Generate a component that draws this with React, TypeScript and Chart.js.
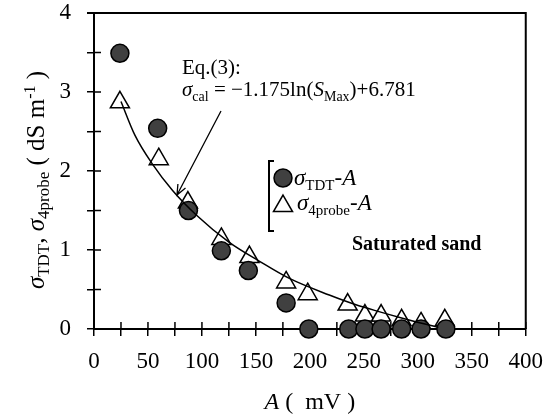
import React, { useEffect, useRef } from "react";
import { Chart, registerables } from "chart.js";

Chart.register(...registerables);

// ---- data ----
const aTDT = [24, 59, 87.5, 118, 143, 178, 199, 236, 251, 266, 285, 303, 326];
const sigmaTDT = [3.49, 2.54, 1.5, 0.99, 0.74, 0.33, 0, 0, 0, 0, 0, 0, 0];
const a4probe = [24, 60, 87, 118, 144, 178, 198, 235, 251, 266, 285, 303, 325];
const sigma4probe = [2.87, 2.15, 1.6, 1.14, 0.91, 0.59, 0.44, 0.31, 0.17, 0.17, 0.11, 0.07, 0.11];
const aCurve = [25, 38, 54, 73, 95, 125, 153, 181, 218, 242, 264, 285, 319];
const sigmaCurve = [2.88, 2.45, 2.09, 1.75, 1.44, 1.1, 0.86, 0.64, 0.43, 0.31, 0.22, 0.14, 0.02];

const xMin = 0;
const xMax = 400;
const xStep = 25;
const xLabelEvery = 50;
const yMin = 0;
const yMax = 4;
const yStep = 0.5;

const eqLabel = "Eq.(3):";
const sandLabel = "Saturated sand";

const SERIF = '"Liberation Serif", "Times New Roman", serif';
const f = (size: number, style = "") => `${style} ${size}px ${SERIF}`.trim();

type Part = { t: string; f: string; dy?: number };

function drawRich(ctx: CanvasRenderingContext2D, parts: Part[], x: number, y: number, align: "left" | "center" = "left") {
  let total = 0;
  for (const p of parts) {
    ctx.font = p.f;
    total += ctx.measureText(p.t).width;
  }
  let cx = align === "center" ? x - total / 2 : x;
  ctx.textAlign = "left";
  ctx.textBaseline = "alphabetic";
  for (const p of parts) {
    ctx.font = p.f;
    ctx.fillText(p.t, cx, y + (p.dy || 0));
    cx += ctx.measureText(p.t).width;
  }
}

function drawTriangle(ctx: CanvasRenderingContext2D, x: number, y: number, r: number) {
  let rad = 0;
  ctx.beginPath();
  for (let i = 0; i < 3; i++) {
    const px = x + Math.sin(rad) * r;
    const py = y - Math.cos(rad) * r;
    if (i === 0) ctx.moveTo(px, py);
    else ctx.lineTo(px, py);
    rad += (2 * Math.PI) / 3;
  }
  ctx.closePath();
  ctx.fillStyle = "#fff";
  ctx.fill();
  ctx.strokeStyle = "#000";
  ctx.lineWidth = 1.5;
  ctx.stroke();
}

const framePlugin = {
  id: "frame",
  beforeDatasetsDraw(chart: any) {
    const { ctx, chartArea, scales } = chart;
    const { left, right, top, bottom } = chartArea;
    ctx.save();
    ctx.strokeStyle = "#000";
    ctx.lineWidth = 1.5;
    // inward ticks
    ctx.beginPath();
    for (const t of scales.x.ticks) {
      const px = scales.x.getPixelForValue(t.value);
      ctx.moveTo(px, bottom);
      ctx.lineTo(px, bottom - 7);
    }
    for (const t of scales.y.ticks) {
      const py = scales.y.getPixelForValue(t.value);
      ctx.moveTo(left, py);
      ctx.lineTo(left + 7, py);
    }
    ctx.stroke();
    // top & right frame
    ctx.lineWidth = 2;
    ctx.beginPath();
    ctx.moveTo(left - 7, top);
    ctx.lineTo(right, top);
    ctx.lineTo(right, bottom);
    ctx.stroke();
    ctx.restore();
  },
  afterDraw(chart: any) {
    const { ctx, chartArea } = chart;
    const { left, right } = chartArea;
    ctx.save();
    ctx.fillStyle = "#000";

    // Y axis title (rotated)
    ctx.save();
    ctx.translate(44, 180);
    ctx.rotate(-Math.PI / 2);
    drawRich(
      ctx,
      [
        { t: "σ", f: f(25, "italic") },
        { t: "TDT", f: f(17), dy: 5 },
        { t: ", ", f: f(25) },
        { t: "σ", f: f(25, "italic") },
        { t: "4probe", f: f(17), dy: 5 },
        { t: " ( dS m", f: f(25) },
        { t: "-1", f: f(16), dy: -9 },
        { t: " )", f: f(25) },
      ],
      0,
      0,
      "center"
    );
    ctx.restore();

    // X axis title
    drawRich(
      ctx,
      [
        { t: "A", f: f(24, "italic") },
        { t: " (  mV )", f: f(24) },
      ],
      (left + right) / 2,
      409,
      "center"
    );

    // Equation annotation
    drawRich(ctx, [{ t: eqLabel, f: f(21) }], 182, 74);
    drawRich(
      ctx,
      [
        { t: "σ", f: f(21, "italic") },
        { t: "cal", f: f(14), dy: 5 },
        { t: " = ", f: f(21) },
        { t: "−", f: f(21) },
        { t: "1.175ln(", f: f(21) },
        { t: "S", f: f(21, "italic") },
        { t: "Max", f: f(14), dy: 5 },
        { t: ")+6.781", f: f(21) },
      ],
      182,
      96
    );

    // Arrow
    const x1 = 221, y1 = 111, x2 = 177, y2 = 195;
    ctx.strokeStyle = "#000";
    ctx.lineWidth = 1.3;
    ctx.beginPath();
    ctx.moveTo(x1, y1);
    ctx.lineTo(x2, y2);
    const ang = Math.atan2(y2 - y1, x2 - x1);
    const hl = 11;
    ctx.moveTo(x2 - hl * Math.cos(ang - 0.4), y2 - hl * Math.sin(ang - 0.4));
    ctx.lineTo(x2, y2);
    ctx.lineTo(x2 - hl * Math.cos(ang + 0.4), y2 - hl * Math.sin(ang + 0.4));
    ctx.stroke();

    // Legend bracket
    ctx.lineWidth = 2;
    ctx.beginPath();
    ctx.moveTo(274, 161);
    ctx.lineTo(269, 161);
    ctx.lineTo(269, 231);
    ctx.lineTo(274, 231);
    ctx.stroke();

    // Legend markers
    ctx.beginPath();
    ctx.arc(283, 178, 9, 0, Math.PI * 2);
    ctx.fillStyle = "#404040";
    ctx.fill();
    ctx.lineWidth = 1.5;
    ctx.strokeStyle = "#000";
    ctx.stroke();
    drawTriangle(ctx, 283, 206, 11);

    ctx.fillStyle = "#000";
    drawRich(
      ctx,
      [
        { t: "σ", f: f(23, "italic") },
        { t: "TDT", f: f(15), dy: 5 },
        { t: "-", f: f(23) },
        { t: "A", f: f(23, "italic") },
      ],
      294,
      185
    );
    drawRich(
      ctx,
      [
        { t: "σ", f: f(23, "italic") },
        { t: "4probe", f: f(15), dy: 5 },
        { t: "-", f: f(23) },
        { t: "A", f: f(23, "italic") },
      ],
      297,
      210
    );

    // Saturated sand
    drawRich(ctx, [{ t: sandLabel, f: f(20, "bold") }], 352, 250);

    ctx.restore();
  },
};

export default function App() {
  const ref = useRef<HTMLCanvasElement | null>(null);
  useEffect(() => {
    if (!ref.current) return;
    const toPts = (xs: number[], ys: number[]) => xs.map((x, i) => ({ x, y: ys[i] }));
    const chart = new Chart(ref.current, {
      type: "scatter",
      data: {
        datasets: [
          {
            label: "curve",
            data: toPts(aCurve, sigmaCurve),
            showLine: true,
            borderColor: "#000",
            borderWidth: 1.5,
            pointRadius: 0,
            tension: 0.4,
            cubicInterpolationMode: "monotone",
            fill: false,
            order: 0,
          } as any,
          {
            label: "TDT",
            data: toPts(aTDT, sigmaTDT),
            pointStyle: "circle",
            pointRadius: 9,
            pointBackgroundColor: "#404040",
            pointBorderColor: "#000",
            pointBorderWidth: 1.5,
            clip: false,
            order: 1,
          } as any,
          {
            label: "4probe",
            data: toPts(a4probe, sigma4probe),
            pointStyle: "triangle",
            pointRadius: 11,
            pointBackgroundColor: "#fff",
            pointBorderColor: "#000",
            pointBorderWidth: 1.5,
            clip: false,
            order: 2,
          } as any,
        ],
      },
      options: {
        responsive: false,
        animation: false,
        events: [],
        layout: { padding: { top: 13, right: 29, left: 0, bottom: 0 } },
        plugins: { legend: { display: false }, tooltip: { enabled: false } },
        scales: {
          x: {
            type: "linear",
            min: xMin,
            max: xMax,
            afterFit: (s: any) => {
              s.height = 85;
            },
            ticks: {
              stepSize: xStep,
              autoSkip: false,
              maxRotation: 0,
              color: "#000",
              padding: 14,
              font: { family: SERIF, size: 23, lineHeight: 1 },
              callback: (v: any) => (Number(v) % xLabelEvery === 0 ? String(v) : ""),
            },
            grid: { drawOnChartArea: false, drawTicks: true, tickLength: 7, color: "#000", lineWidth: 1.5 },
            border: { display: true, color: "#000", width: 2 },
          },
          y: {
            type: "linear",
            min: yMin,
            max: yMax,
            afterFit: (s: any) => {
              s.width = 94;
              s.paddingTop = 0;
              s.paddingBottom = 0;
            },
            ticks: {
              stepSize: yStep,
              autoSkip: false,
              color: "#000",
              padding: 16,
              font: { family: SERIF, size: 23, lineHeight: 1 },
              callback: (v: any) => (Number.isInteger(Number(v)) ? String(v) : ""),
            },
            grid: { drawOnChartArea: false, drawTicks: true, tickLength: 7, color: "#000", lineWidth: 1.5 },
            border: { display: true, color: "#000", width: 2 },
          },
        },
      } as any,
      plugins: [framePlugin],
    });
    return () => chart.destroy();
  }, []);
  return (
    <div style={{ position: "fixed", left: 0, top: 0, width: 557, height: 414, background: "#fff" }}>
      <canvas ref={ref} width={557} height={414} style={{ display: "block" }} />
    </div>
  );
}
